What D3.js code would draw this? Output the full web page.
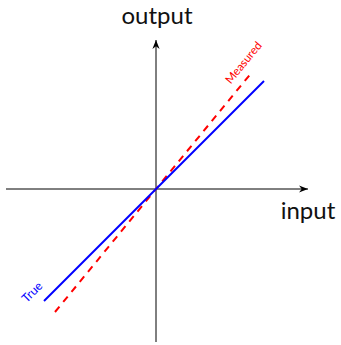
<!DOCTYPE html>
<html><head><meta charset="utf-8">
<script src="https://cdn.jsdelivr.net/npm/d3@7"></script>
<style>body{margin:0;background:#fff}svg{display:block}</style>
</head><body>
<svg id="c" width="341" height="345"></svg>
<script>
const axisLabels = ["input", "output"];
const seriesNames = ["True", "Measured"];
const trueX = [-2.24, 2.16];
const trueY = [-2.24, 2.16];
const measX = [-2.02, 1.93];
const measY = [-2.46, 2.35];
const xDomain = [-3, 3.04];
const yDomain = [-3.06, 2.98];

const svg = d3.select("#c");
const x = d3.scaleLinear().domain(xDomain).range([6, 308]);
const y = d3.scaleLinear().domain(yDomain).range([342, 40]);

const defs = svg.append("defs");
defs.append("marker").attr("id","arr").attr("viewBox","0 0 10 10")
  .attr("refX",10).attr("refY",5).attr("markerWidth",9).attr("markerHeight",9)
  .attr("markerUnits","userSpaceOnUse").attr("orient","auto")
  .append("path").attr("d","M0,1 L10,5 L0,9 L3,5 Z").attr("fill","#000");

svg.append("line").attr("x1",x(xDomain[0])).attr("x2",x(xDomain[1]))
  .attr("y1",y(0)).attr("y2",y(0)).attr("stroke","#000").attr("stroke-width",1)
  .attr("marker-end","url(#arr)");
svg.append("line").attr("x1",x(0)).attr("x2",x(0))
  .attr("y1",y(yDomain[0])).attr("y2",y(yDomain[1])).attr("stroke","#000").attr("stroke-width",1)
  .attr("marker-end","url(#arr)");

const line = d3.line().x(d=>x(d[0])).y(d=>y(d[1]));
svg.append("path").datum(d3.zip(measX, measY)).attr("d", line)
  .attr("fill","none").attr("stroke","#ff0000").attr("stroke-width",2)
  .attr("stroke-dasharray","7,6");
svg.append("path").datum(d3.zip(trueX, trueY)).attr("d", line)
  .attr("fill","none").attr("stroke","#0000ff").attr("stroke-width",2);

const font = "Lato, 'Open Sans', sans-serif";
svg.append("text").attr("x", x(0)+1).attr("y", 24).attr("text-anchor","middle")
  .attr("font-family",font).attr("font-size",24).attr("fill","#111").text(axisLabels[1]);
svg.append("text").attr("x", 308).attr("y", 219).attr("text-anchor","middle")
  .attr("font-family",font).attr("font-size",24).attr("fill","#111").text(axisLabels[0]);

// series labels at the outer ends
const tx = x(trueX[0]) - 12, ty = y(trueY[0]) - 9;
svg.append("text").attr("transform",`translate(${tx},${ty}) rotate(-45)`)
  .attr("text-anchor","middle").attr("dy","0.35em")
  .attr("font-family",font).attr("font-size",12).attr("fill","#0000ff").text(seriesNames[0]);
const ang = -Math.atan2(y(measY[0])-y(measY[1]), x(measX[1])-x(measX[0]))*180/Math.PI;
const mx = x(measX[1]) - 9, my = y(measY[1]) - 9;
svg.append("text").attr("transform",`translate(${mx},${my}) rotate(${ang})`)
  .attr("text-anchor","middle").attr("dy","0.35em")
  .attr("font-family",font).attr("font-size",11.5).attr("fill","#ff0000").text(seriesNames[1]);
</script>
</body></html>
